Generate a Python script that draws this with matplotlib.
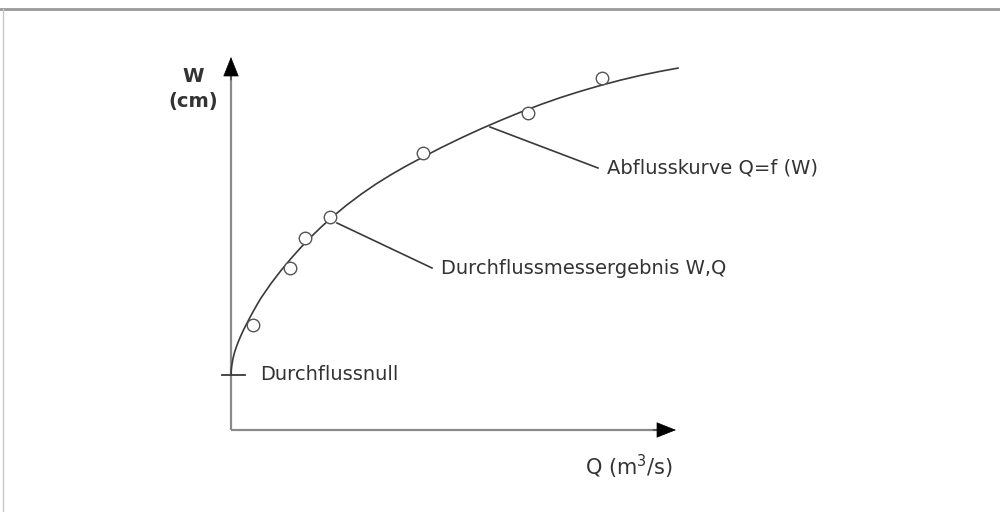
import matplotlib
matplotlib.use("Agg")
import matplotlib.pyplot as plt
from matplotlib.lines import Line2D

# ── Daten (Schemaeinheiten) ────────────────────────────────────────────────
kurve_q = [0, 0.3, 1, 2, 3.5, 5, 7, 9.5, 12, 15, 18.5, 22, 26, 30, 40, 50, 60,
           70, 80, 90, 100, 115, 130, 145, 160, 175, 190, 210, 230, 250, 270,
           290, 310, 330, 350, 370, 390, 410, 430, 447]
kurve_w = [55, 60.5, 66, 71.5, 77.5, 82, 87.5, 93.5, 99, 105, 111.7, 118.2,
           125.3, 132, 146.5, 159.5, 171.5, 182.7, 193.1, 202.8, 211.9, 224.4,
           235.7, 246, 255.3, 263.9, 271.9, 282.3, 292, 301.2, 309.8, 318,
           325.6, 332.6, 338.9, 344.7, 350, 354.7, 358.8, 361.9]

mess_q = [22, 59, 74, 99, 192, 297, 371]
mess_w = [105, 162, 192, 213, 277, 317, 352]

null_w = 55

# Beschriftungen: (Text, Ankerpunkt an Kurve, Textposition)
labels = [
    ("Abflusskurve Q=f (W)", (259, 303), (367, 262)),
    ("Durchflussmessergebnis W,Q", (106, 207), (201, 162)),
]

FARBE_ACHSE = "#8a8a8a"
FARBE_LINIE = "#3a3a3a"
FARBE_TEXT = "#333333"
FONT = "DejaVu Sans"

fig = plt.figure(figsize=(10, 5.12), dpi=100)
ax = fig.add_axes([0, 0, 1, 1])
ax.set_xlim(-231, 769)
ax.set_ylim(-82, 430)
ax.axis("off")

# Rahmen oben / links
fig.add_artist(Line2D([0, 1], [1 - 9 / 512] * 2, color="#9a9a9a", lw=2.0))
fig.add_artist(Line2D([3 / 1000] * 2, [0, 1 - 9 / 512], color="#c8c8c8", lw=1.0))

# Achsen mit Pfeilspitzen
ax.plot([0, 0], [0, 358], color=FARBE_ACHSE, lw=1.6, solid_capstyle="butt")
ax.plot([0, 430], [0, 0], color=FARBE_ACHSE, lw=1.6, solid_capstyle="butt")
pfeil = dict(arrowstyle="-|>,head_length=0.65,head_width=0.26", color="black",
             shrinkA=0, shrinkB=0, mutation_scale=20, lw=0.5)
ax.annotate("", xy=(0, 373), xytext=(0, 350), arrowprops=pfeil)
ax.annotate("", xy=(445, 0), xytext=(422, 0), arrowprops=pfeil)

ax.text(-38, 353, "W", ha="center", va="center", fontsize=14, fontweight="bold",
        color=FARBE_TEXT, family=FONT)
ax.text(-38, 328, "(cm)", ha="center", va="center", fontsize=14, fontweight="bold",
        color=FARBE_TEXT, family=FONT)
ax.text(398, -37, "Q (m$^3$/s)", ha="center", va="center", fontsize=15,
        color=FARBE_TEXT, family=FONT)

# Abflusskurve
ax.plot(kurve_q, kurve_w, color=FARBE_LINIE, lw=1.2, zorder=3)

# Durchflussnull
ax.plot([-9, 14], [null_w, null_w], color=FARBE_LINIE, lw=1.3, zorder=3)
ax.text(29, null_w, "Durchflussnull", ha="left", va="center", fontsize=14,
        color=FARBE_TEXT, family=FONT)

# Messpunkte
ax.plot(mess_q, mess_w, "o", ms=9, mfc="white", mec="#555555", mew=1.0, zorder=4)

# Hinweislinien
for txt, (x0, y0), (x1, y1) in labels:
    ax.plot([x0, x1], [y0, y1], color=FARBE_LINIE, lw=1.2, zorder=2)
    ax.text(x1 + 9, y1, txt, ha="left", va="center", fontsize=14,
            color=FARBE_TEXT, family=FONT)

fig.savefig("out.png", dpi=100, facecolor="white")
